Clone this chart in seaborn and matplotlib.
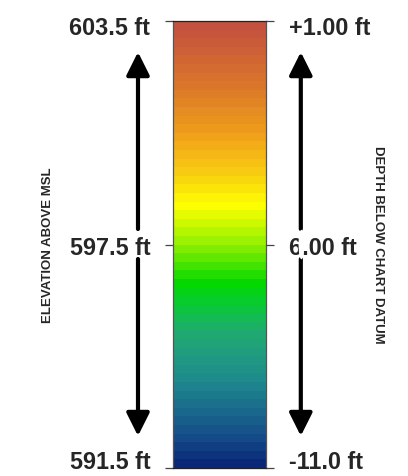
import numpy as np
import matplotlib
matplotlib.use("Agg")
import matplotlib.pyplot as plt
import matplotlib.transforms as mtransforms
from matplotlib.colors import LinearSegmentedColormap
from matplotlib.patches import Ellipse
import seaborn as sns

# scale end points and labels
elev_top = 603.5
elev_bottom = 591.5
elev_ticks = [603.5, 597.5, 591.5]
elev_labels = ['603.5 ft', '597.5 ft', '591.5 ft']
depth_labels = ['+1.00 ft', '6.00 ft', '-11.0 ft']
n_bands = 52

# colour ramp, bottom -> top
ramp_pos = [0.0, 0.07, 0.19, 0.30, 0.36, 0.41, 0.50, 0.59, 0.66, 0.75, 0.85, 1.0]
ramp_col = ['#0b2878', '#15508a', '#1f8a8e', '#1faa70', '#0ac83a', '#00d800',
            '#90f000', '#ffff00', '#f8ce10', '#f0a01a', '#dc7a28', '#c4503f']

sns.set_style("white")
plt.rcParams['font.family'] = ['Liberation Sans', 'DejaVu Sans']
plt.rcParams['font.weight'] = 'bold'

cmap = LinearSegmentedColormap.from_list('elev', list(zip(ramp_pos, ramp_col)))

levels = np.linspace(elev_top, elev_bottom, n_bands)
grid = levels.reshape(-1, 1)

fig = plt.figure(figsize=(4.08, 4.77), dpi=100)
ax = fig.add_axes([0.4228, 0.0168, 0.2292, 0.937])
sns.heatmap(grid, cmap=cmap, vmin=elev_bottom, vmax=elev_top, cbar=False,
            xticklabels=False, yticklabels=False, ax=ax)

def to_row(v):
    return (elev_top - v) / (elev_top - elev_bottom) * n_bands

tick_pos = [to_row(v) for v in elev_ticks]

for s in ax.spines.values():
    s.set_visible(True)
    s.set_color('#555555')
    s.set_linewidth(0.9)
ax.spines['top'].set_color('#222222')
ax.spines['bottom'].set_color('#222222')

ax.set_yticks(tick_pos)
ax.set_yticklabels(elev_labels, rotation=0, fontsize=16.8, fontweight='bold')
ax.tick_params(axis='y', left=True, length=6, width=0.9, color='#444444', pad=10)
ax.set_xticks([])
ax.set_ylabel('')

ax2 = ax.twinx()
ax2.set_ylim(ax.get_ylim())
ax2.set_yticks(tick_pos)
ax2.set_yticklabels(depth_labels, fontsize=16.8, fontweight='bold')
ax2.tick_params(axis='y', right=True, length=6, width=0.9, color='#444444', pad=10.5)
for s in ax2.spines.values():
    s.set_visible(False)

# nudge end labels inward a little
dpi_tr = fig.dpi_scale_trans
for axis_obj in (ax, ax2):
    lbls = axis_obj.get_yticklabels()
    lbls[0].set_transform(lbls[0].get_transform() + mtransforms.ScaledTranslation(0, -4 / 100, dpi_tr))
    lbls[-1].set_transform(lbls[-1].get_transform() + mtransforms.ScaledTranslation(0, 9 / 100, dpi_tr))

# double headed arrows with a gap at mid height
arrow_kw = dict(arrowstyle='-|>,head_length=0.7,head_width=0.35', lw=3, color='black',
                shrinkA=0, shrinkB=0, mutation_scale=20)
for xa in (-0.369, 1.372):
    ax2.annotate('', xy=(xa, 0.9306), xytext=(xa, 0.5347), xycoords='axes fraction',
                 arrowprops=arrow_kw, annotation_clip=False)
    ax2.annotate('', xy=(xa, 0.0716), xytext=(xa, 0.4676), xycoords='axes fraction',
                 arrowprops=arrow_kw, annotation_clip=False)

ax2.add_patch(Ellipse((1.378, 0.5), 0.06, 0.066, transform=ax2.transAxes,
                      facecolor='white', edgecolor='none', clip_on=False, zorder=5))

fig.text(0.117, 0.486, 'ELEVATION ABOVE MSL', rotation=90, ha='center', va='center',
         fontsize=9.5, fontweight='bold')
fig.text(0.9265, 0.486, 'DEPTH BELOW CHART DATUM', rotation=-90, ha='center', va='center',
         fontsize=9.5, fontweight='bold')

fig.savefig('out.png', dpi=100)
